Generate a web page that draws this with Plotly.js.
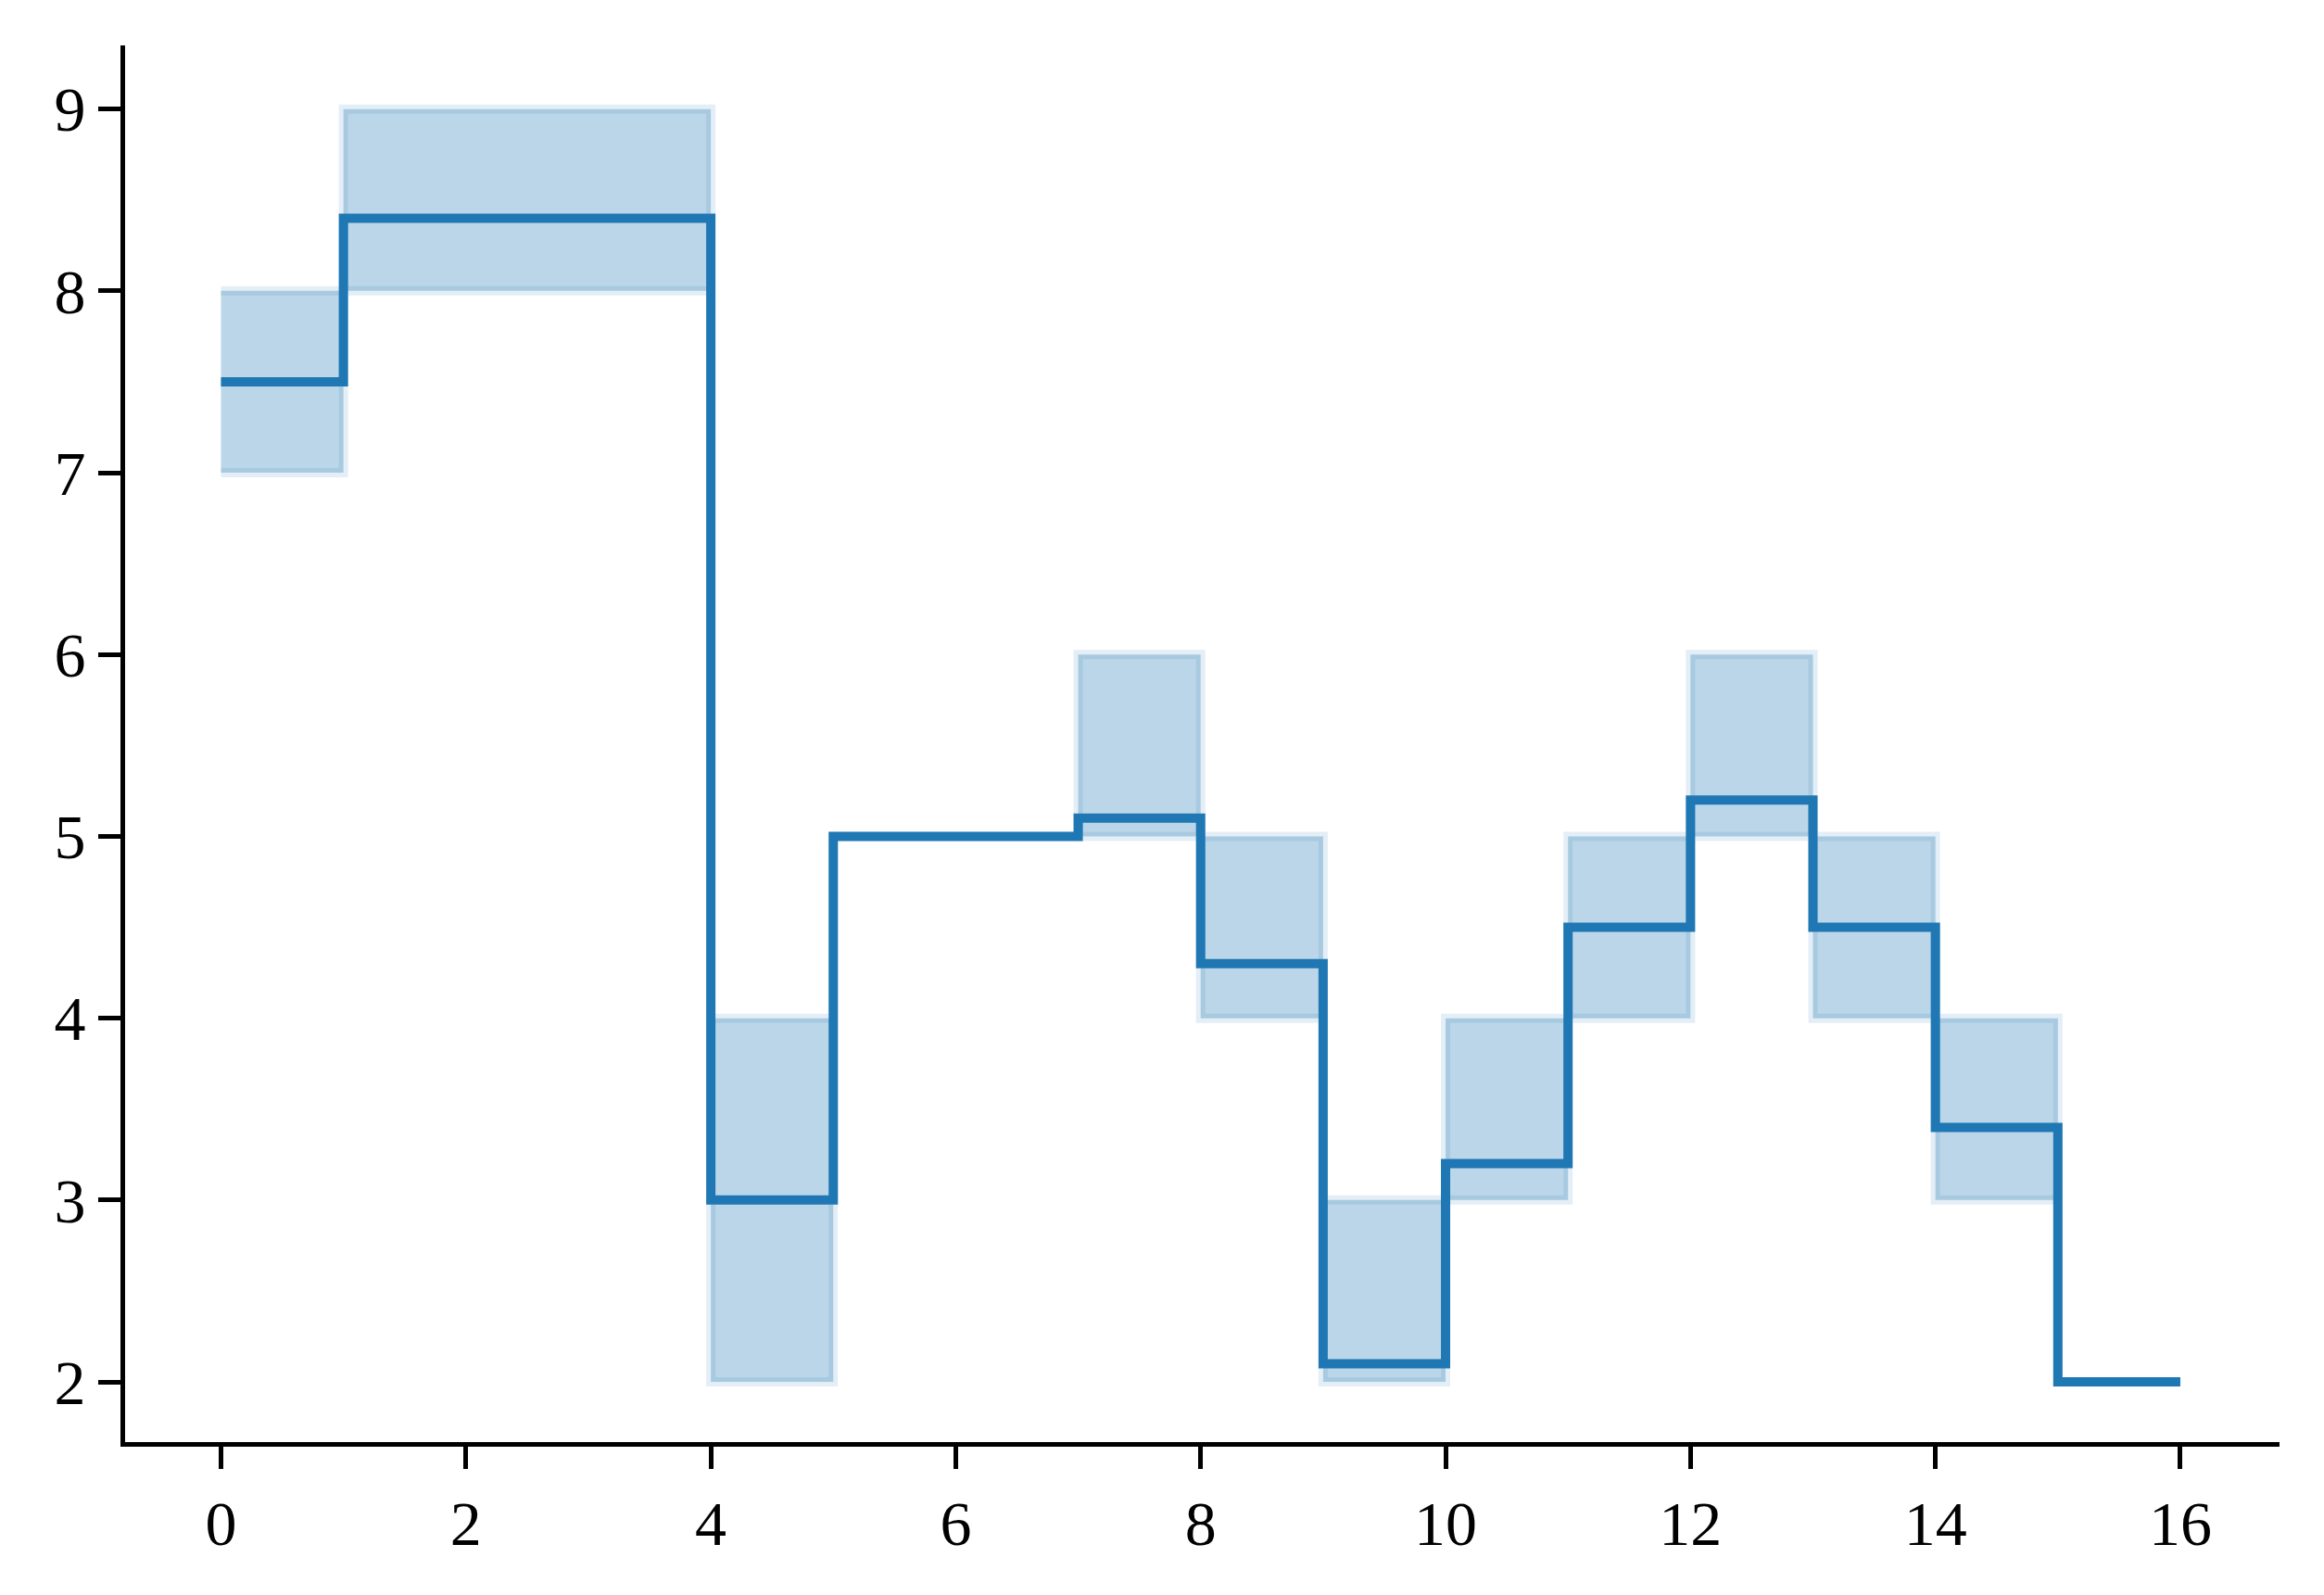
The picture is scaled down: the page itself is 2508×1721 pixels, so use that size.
<!DOCTYPE html>
<html>
<head>
<meta charset="utf-8">
<script src="https://cdn.plot.ly/plotly-3.0.1.min.js"></script>
<style>
html,body{margin:0;padding:0;background:#fff;}
#chart{width:2508px;height:1721px;}
</style>
</head>
<body>
<div id="chart"></div>
<script>
const xs = [0, 1, 2, 3, 4, 5, 6, 7, 8, 9, 10, 11, 12, 13, 14, 15, 16];
const meanVals = [7.5, 8.4, 8.4, 8.4, 3.0, 5.0, 5.0, 5.1, 4.3, 2.1, 3.2, 4.5, 5.2, 4.5, 3.4, 2.0, 2.0];
const lowerVals = [7, 8, 8, 8, 2, 5, 5, 5, 4, 2, 3, 4, 5, 4, 3, 2, 2];
const upperVals = [8, 9, 9, 9, 4, 5, 5, 6, 5, 3, 4, 5, 6, 5, 4, 2, 2];
const xTicks = [0, 2, 4, 6, 8, 10, 12, 14, 16];
const yTicks = [2, 3, 4, 5, 6, 7, 8, 9];

// step-post band polygon built from the data arrays
const px = [], py = [];
for (let i = 0; i < xs.length - 1; i++) {
  px.push(xs[i], xs[i + 1]);
  py.push(upperVals[i], upperVals[i]);
}
for (let i = xs.length - 2; i >= 0; i--) {
  px.push(xs[i + 1], xs[i]);
  py.push(lowerVals[i], lowerVals[i]);
}

const band = {
  x: px, y: py, type: 'scatter', mode: 'lines', fill: 'toself',
  fillcolor: 'rgba(31,119,180,0.3)',
  line: {color: 'rgba(31,119,180,0.12)', width: 10},
  hoverinfo: 'skip', showlegend: false
};
const line = {
  x: xs, y: meanVals, type: 'scatter', mode: 'lines',
  line: {color: '#1f77b4', width: 10, shape: 'hv'},
  showlegend: false
};

const FAMILY = 'Liberation Serif';
const layout = {
  width: 2508, height: 1721,
  margin: {l: 135, r: 48, t: 49, b: 165, pad: 0},
  paper_bgcolor: '#fff', plot_bgcolor: '#fff',
  font: {family: FAMILY, size: 68, color: '#000'},
  showlegend: false,
  xaxis: {
    range: [-0.783, 16.81], tickmode: 'array', tickvals: xTicks, ticktext: xTicks.map(String),
    showgrid: false, zeroline: false, showline: true, linecolor: '#000', linewidth: 5,
    ticks: 'outside', ticklen: 24, tickwidth: 5, tickcolor: '#000',
    tickfont: {family: FAMILY, size: 68, color: '#000'}
  },
  yaxis: {
    range: [1.669, 9.35], tickmode: 'array', tickvals: yTicks, ticktext: yTicks.map(String),
    showgrid: false, zeroline: false, showline: true, linecolor: '#000', linewidth: 5,
    ticks: 'outside', ticklen: 24, tickwidth: 5, tickcolor: '#000',
    tickfont: {family: FAMILY, size: 68, color: '#000'}
  }
};
Plotly.newPlot('chart', [band, line], layout, {displayModeBar: false});
if (document.fonts && document.fonts.load) {
  document.fonts.load('68px "Liberation Serif"', '0123456789').then(function () {
    Plotly.redraw('chart');
  });
}
</script>
</body>
</html>
